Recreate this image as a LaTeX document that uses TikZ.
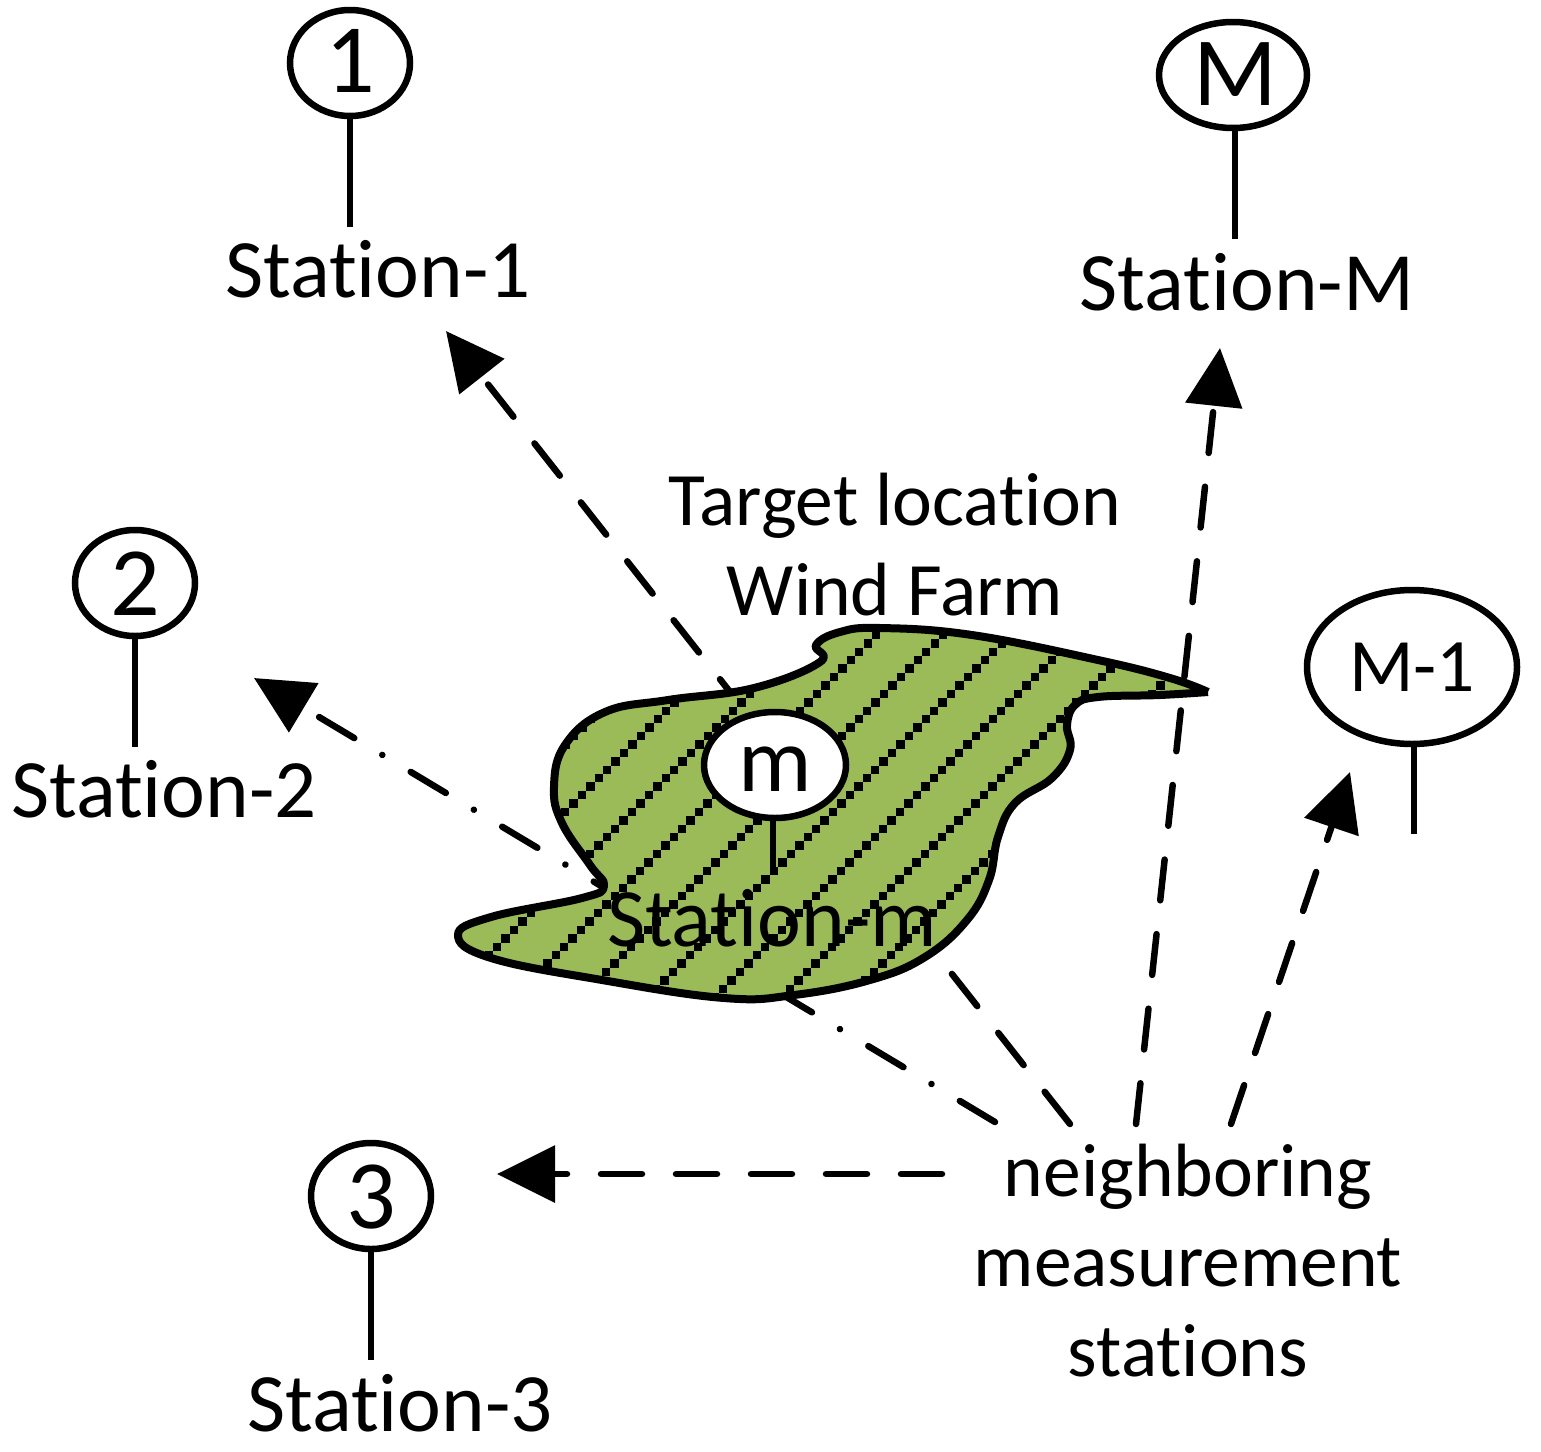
\documentclass[tikz,border=0pt]{standalone}
\usepackage{fontspec}
\setmainfont[Ligatures=CommonOff]{Carlito}
\usetikzlibrary{shapes.geometric,arrows.meta}
\definecolor{farm}{RGB}{155,187,89}
\tikzset{
 x=1pt,y=-1pt,
 stn/.style={draw=black,line width=6.5pt,ellipse,fill=white,inner sep=0pt,minimum width=#1},
 lbl/.style={font=\fontsize{75.5}{90}\selectfont,inner sep=0pt,align=center},
 slbl/.style={font=\fontsize{83}{90}\selectfont,inner sep=0pt,align=center},
 big/.style={font=\fontsize{98}{98}\selectfont,inner sep=0pt},
 pole/.style={line width=6.5pt},
 dashl/.style={line width=6.5pt,line cap=round,dash pattern=on 41pt off 34pt},
 dashd/.style={line width=6.5pt,line cap=round,dash pattern=on 41pt off 33pt on 0.1pt off 32.6pt},
 tip/.style={-{Triangle[length=58pt,width=56pt]}},
}
\def\farmpath{plot[smooth,tension=0.7] coordinates {(1208,692) (1160,695) (1098,697) (1075,705) (1067,725) (1070,750) (1052,778) (1015,803) (998,837) (989,880) (967,920) (925,957) (870,980) (794,995) (724,998) (602,980) (491,958) (458,935) (491,917) (582,898) (604,886) (590,865) (562,823) (554,787) (565,745) (605,712) (668,700) (754,688) (820,662) (816,645) (840,632) (880,628) (972,635) (1098,660) (1170,678) (1208,692)}}
\begin{document}
\begin{tikzpicture}
\useasboundingbox (0,0) rectangle (1541,1451);
% arrows
\coordinate (a1) at (1070,1124); \coordinate (t1) at (446,331);
\coordinate (a2) at (995,1122); \coordinate (t2) at (254,678);
\coordinate (a3) at (942,1174); \coordinate (t3) at (497,1174);
\coordinate (a4) at (1136,1124); \coordinate (t4) at (1220,348);
\coordinate (a5) at (1231,1124); \coordinate (t5) at (1350,772);
\draw[dashl,tip] (a1) -- (t1);
\draw[dashd,tip] (a2) -- (t2);
\draw[dashl,tip] (a3) -- (t3);
\draw[dashl,tip] (a4) -- (t4);
\draw[dashl,tip] (a5) -- (t5);
% farm
\fill[farm] \farmpath;
\begin{scope}
\clip \farmpath;
\foreach \i in {0,...,9}{
 \foreach \t in {0,...,75}{
  \pgfmathsetmacro{\qx}{1846-\i*67-500-\t*8.43}
  \pgfmathsetmacro{\qy}{500+\t*8.43}
  \fill[black] (\qx-4.2,\qy-4.2) rectangle (\qx+4.2,\qy+4.2);
 }
}
\end{scope}
\draw[line width=8pt,line join=round] \farmpath;
% stations
\coordinate (s1b) at (350,227);
\draw[pole] (s1b) -- (350,63);
\node[stn=120pt,minimum height=106pt] (s1) at (350,63) {};
\node[big] (n1) at (350,61) {1};
\node[slbl] (l1) at (378,269) {Station-1};
\coordinate (sMb) at (1235,239);
\draw[pole] (sMb) -- (1235,75);
\node[stn=148pt,minimum height=106pt] (sM) at (1233,75) {};
\node[big] (nM) at (1235,74) {M};
\node[slbl] (lM) at (1247,282) {Station-M};
\coordinate (s2b) at (135,747);
\draw[pole] (s2b) -- (135,583);
\node[stn=120pt,minimum height=106pt] (s2) at (135,583) {};
\node[big] (n2) at (135,584) {2};
\node[slbl] (l2) at (164,789) {Station-2};
\coordinate (sM1b) at (1414,834);
\draw[pole] (sM1b) -- (1414,667);
\node[stn=210pt,minimum height=154pt] (sM1) at (1412,667) {};
\node[lbl] (nM1) at (1412,667) {M-1};
\coordinate (s3b) at (371,1360);
\draw[pole] (s3b) -- (371,1196);
\node[stn=120pt,minimum height=106pt] (s3) at (371,1196) {};
\node[big] (n3) at (371,1197) {3};
\node[slbl] (l3) at (400,1403) {Station-3};
\coordinate (smb) at (773,875);
\draw[pole] (smb) -- (773,765);
\node[stn=142pt,minimum height=106pt] (sm) at (775,765) {};
\node[font=\fontsize{92}{92}\selectfont,inner sep=0pt] (nm) at (775,769) {m};
\node[slbl] (lm) at (772,918) {Station-m};
\node[lbl] (tgt) at (895,545) {Target location\\Wind Farm};
\node[lbl] (nb) at (1188,1261) {neighboring\\measurement\\stations};
\end{tikzpicture}
\end{document}
